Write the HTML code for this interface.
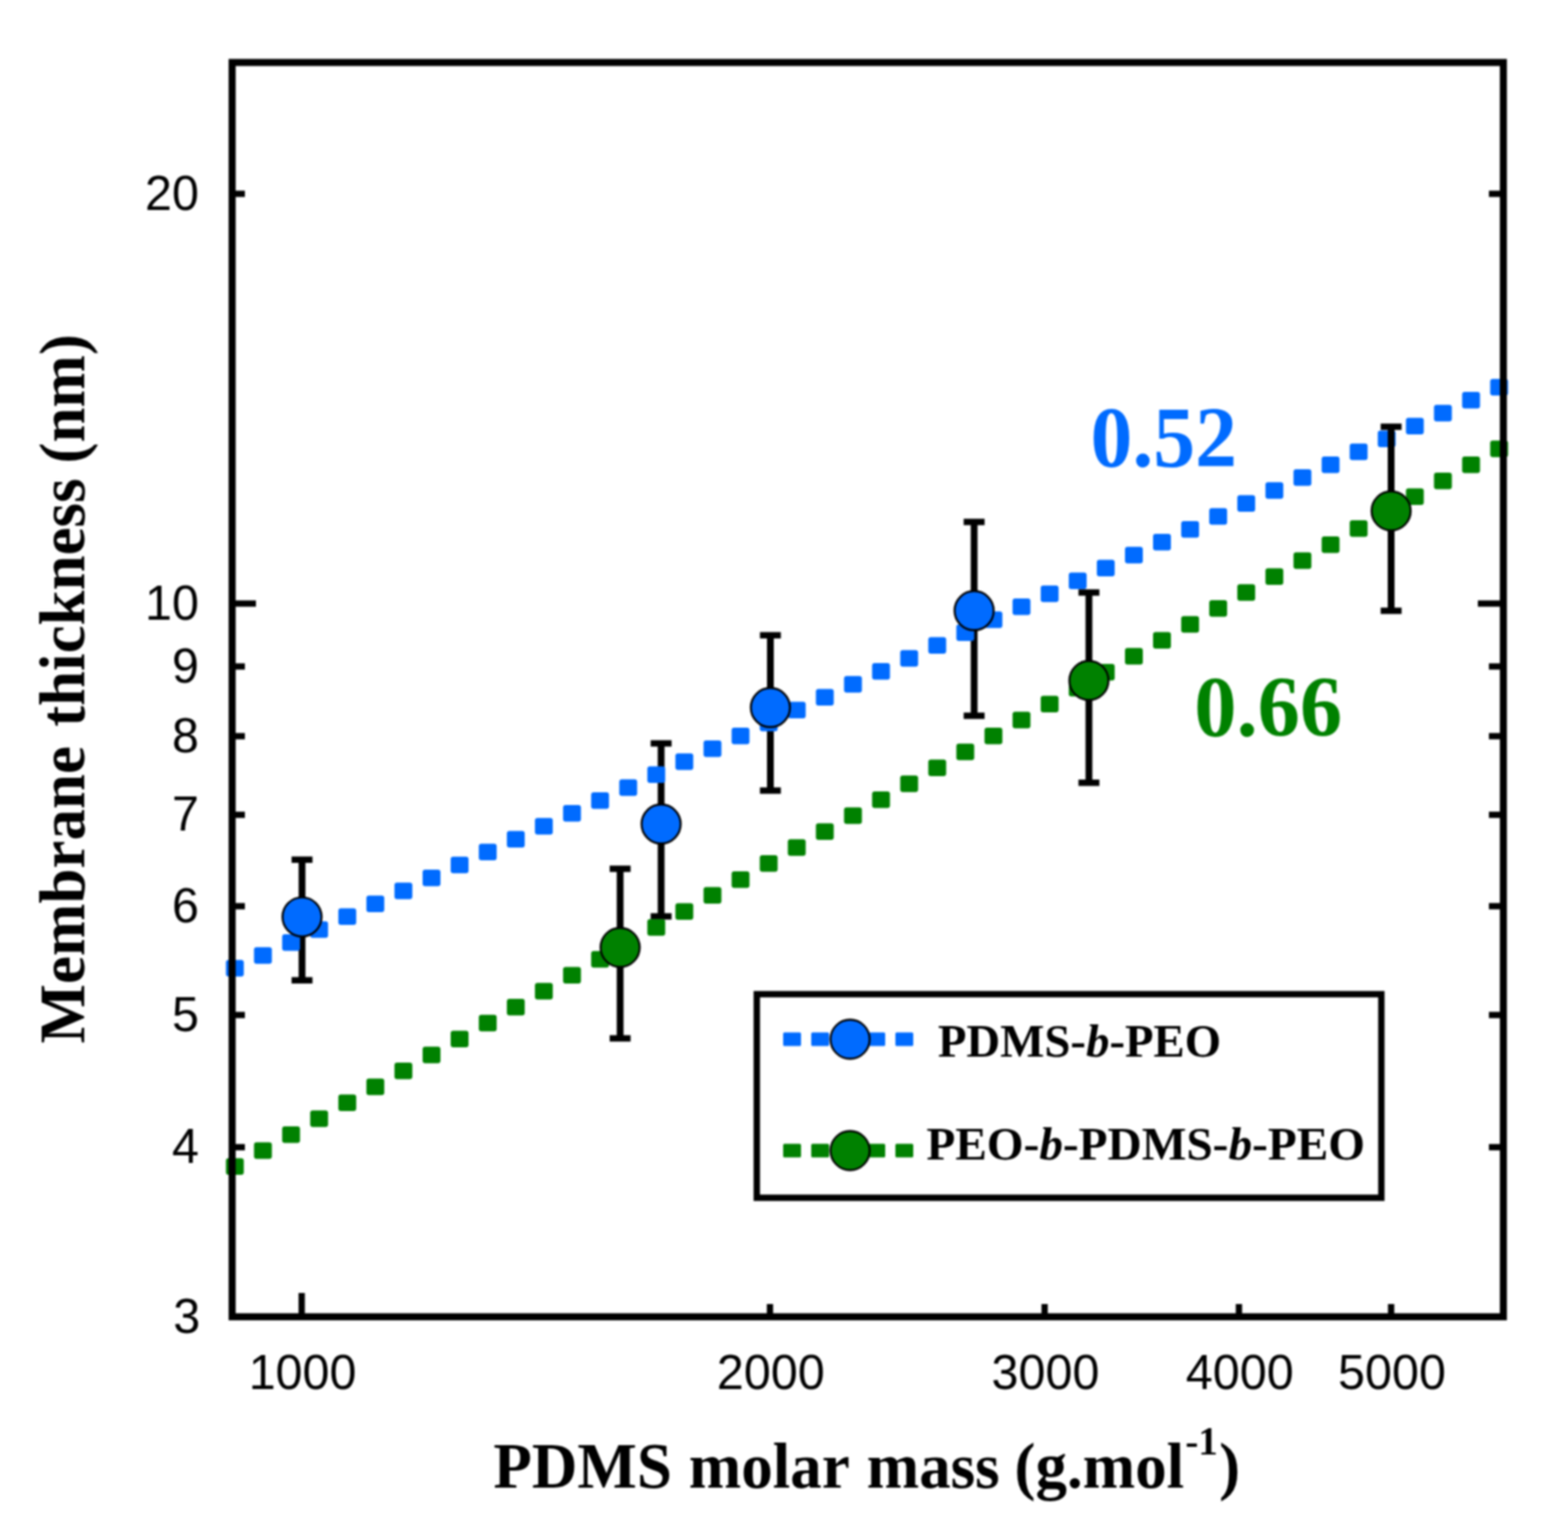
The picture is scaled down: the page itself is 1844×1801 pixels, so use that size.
<!DOCTYPE html>
<html lang="en">
<head>
<meta charset="utf-8">
<title>Membrane thickness vs PDMS molar mass</title>
<style>
html,body{margin:0;padding:0;background:#fff;}
body{width:1844px;height:1801px;overflow:hidden;}
svg{display:block;}
.tick{font-family:"Liberation Sans",sans-serif;font-size:57px;fill:#000;}
.ax{font-family:"Liberation Serif",serif;font-weight:bold;fill:#000;}
.lg{font-family:"Liberation Serif",serif;font-weight:bold;font-size:55px;fill:#000;}
.sl{font-family:"Liberation Serif",serif;font-weight:bold;font-size:101px;}
</style>
</head>
<body>
<svg width="1844" height="1801" viewBox="0 0 1844 1801">
<defs><filter id="soft" x="0" y="0" width="1844" height="1801" filterUnits="userSpaceOnUse" color-interpolation-filters="sRGB"><feGaussianBlur stdDeviation="0.9"/></filter></defs>
<rect x="0" y="0" width="1844" height="1801" fill="#fff"/>
<g filter="url(#soft)">
<rect x="-20" y="-20" width="1884" height="1841" fill="#fff"/>
<g id="series-blue">
<line x1="355.2" y1="1011.3" x2="355.2" y2="1153.2" stroke="#000" stroke-width="8"/><line x1="342.9" y1="1011.3" x2="367.5" y2="1011.3" stroke="#000" stroke-width="7.5"/><line x1="342.9" y1="1153.2" x2="367.5" y2="1153.2" stroke="#000" stroke-width="7.5"/>
<line x1="777.5" y1="874.5" x2="777.5" y2="1078" stroke="#000" stroke-width="8"/><line x1="765.2" y1="874.5" x2="789.8" y2="874.5" stroke="#000" stroke-width="7.5"/><line x1="765.2" y1="1078" x2="789.8" y2="1078" stroke="#000" stroke-width="7.5"/>
<line x1="906" y1="747.3" x2="906" y2="930" stroke="#000" stroke-width="8"/><line x1="893.7" y1="747.3" x2="918.3" y2="747.3" stroke="#000" stroke-width="7.5"/><line x1="893.7" y1="930" x2="918.3" y2="930" stroke="#000" stroke-width="7.5"/>
<line x1="1145.6" y1="614" x2="1145.6" y2="842" stroke="#000" stroke-width="8"/><line x1="1133.3" y1="614" x2="1157.8999999999999" y2="614" stroke="#000" stroke-width="7.5"/><line x1="1133.3" y1="842" x2="1157.8999999999999" y2="842" stroke="#000" stroke-width="7.5"/>
<rect x="265.7" y="1129.3" width="21" height="19.5" rx="3" fill="#006bff"/>
<rect x="298.7" y="1114.2" width="21" height="19.5" rx="3" fill="#006bff"/>
<rect x="331.8" y="1099.0" width="21" height="19.5" rx="3" fill="#006bff"/>
<rect x="364.8" y="1083.8" width="21" height="19.5" rx="3" fill="#006bff"/>
<rect x="397.9" y="1068.6" width="21" height="19.5" rx="3" fill="#006bff"/>
<rect x="430.9" y="1053.4" width="21" height="19.5" rx="3" fill="#006bff"/>
<rect x="463.9" y="1038.2" width="21" height="19.5" rx="3" fill="#006bff"/>
<rect x="497.0" y="1023.0" width="21" height="19.5" rx="3" fill="#006bff"/>
<rect x="530.0" y="1007.8" width="21" height="19.5" rx="3" fill="#006bff"/>
<rect x="563.1" y="992.6" width="21" height="19.5" rx="3" fill="#006bff"/>
<rect x="596.1" y="977.4" width="21" height="19.5" rx="3" fill="#006bff"/>
<rect x="629.1" y="962.3" width="21" height="19.5" rx="3" fill="#006bff"/>
<rect x="662.2" y="947.1" width="21" height="19.5" rx="3" fill="#006bff"/>
<rect x="695.2" y="931.9" width="21" height="19.5" rx="3" fill="#006bff"/>
<rect x="728.3" y="916.7" width="21" height="19.5" rx="3" fill="#006bff"/>
<rect x="761.3" y="901.5" width="21" height="19.5" rx="3" fill="#006bff"/>
<rect x="794.3" y="886.3" width="21" height="19.5" rx="3" fill="#006bff"/>
<rect x="827.4" y="871.1" width="21" height="19.5" rx="3" fill="#006bff"/>
<rect x="860.4" y="855.9" width="21" height="19.5" rx="3" fill="#006bff"/>
<rect x="893.5" y="840.7" width="21" height="19.5" rx="3" fill="#006bff"/>
<rect x="926.5" y="825.5" width="21" height="19.5" rx="3" fill="#006bff"/>
<rect x="959.5" y="810.4" width="21" height="19.5" rx="3" fill="#006bff"/>
<rect x="992.6" y="795.2" width="21" height="19.5" rx="3" fill="#006bff"/>
<rect x="1025.6" y="780.0" width="21" height="19.5" rx="3" fill="#006bff"/>
<rect x="1058.7" y="764.8" width="21" height="19.5" rx="3" fill="#006bff"/>
<rect x="1091.7" y="749.6" width="21" height="19.5" rx="3" fill="#006bff"/>
<rect x="1124.7" y="734.4" width="21" height="19.5" rx="3" fill="#006bff"/>
<rect x="1157.8" y="719.2" width="21" height="19.5" rx="3" fill="#006bff"/>
<rect x="1190.8" y="704.0" width="21" height="19.5" rx="3" fill="#006bff"/>
<rect x="1223.9" y="688.8" width="21" height="19.5" rx="3" fill="#006bff"/>
<rect x="1256.9" y="673.6" width="21" height="19.5" rx="3" fill="#006bff"/>
<rect x="1289.9" y="658.5" width="21" height="19.5" rx="3" fill="#006bff"/>
<rect x="1323.0" y="643.3" width="21" height="19.5" rx="3" fill="#006bff"/>
<rect x="1356.0" y="628.1" width="21" height="19.5" rx="3" fill="#006bff"/>
<rect x="1389.1" y="612.9" width="21" height="19.5" rx="3" fill="#006bff"/>
<rect x="1422.1" y="597.7" width="21" height="19.5" rx="3" fill="#006bff"/>
<rect x="1455.1" y="582.5" width="21" height="19.5" rx="3" fill="#006bff"/>
<rect x="1488.2" y="567.3" width="21" height="19.5" rx="3" fill="#006bff"/>
<rect x="1521.2" y="552.1" width="21" height="19.5" rx="3" fill="#006bff"/>
<rect x="1554.3" y="536.9" width="21" height="19.5" rx="3" fill="#006bff"/>
<rect x="1587.3" y="521.8" width="21" height="19.5" rx="3" fill="#006bff"/>
<rect x="1620.3" y="506.6" width="21" height="19.5" rx="3" fill="#006bff"/>
<rect x="1653.4" y="491.4" width="21" height="19.5" rx="3" fill="#006bff"/>
<rect x="1686.4" y="476.2" width="21" height="19.5" rx="3" fill="#006bff"/>
<rect x="1719.5" y="461.0" width="21" height="19.5" rx="3" fill="#006bff"/>
<rect x="1752.5" y="445.8" width="21" height="19.5" rx="3" fill="#006bff"/>
<circle cx="355.2" cy="1078.6" r="23" fill="#006bff" stroke="#000" stroke-width="2.4"/>
<circle cx="777.5" cy="969.3" r="23" fill="#006bff" stroke="#000" stroke-width="2.4"/>
<circle cx="906" cy="832.3" r="23" fill="#006bff" stroke="#000" stroke-width="2.4"/>
<circle cx="1145.6" cy="718.3" r="23" fill="#006bff" stroke="#000" stroke-width="2.4"/>
</g>
<g id="series-green">
<line x1="729.3" y1="1022" x2="729.3" y2="1221.5" stroke="#000" stroke-width="8"/><line x1="717.0" y1="1022" x2="741.5999999999999" y2="1022" stroke="#000" stroke-width="7.5"/><line x1="717.0" y1="1221.5" x2="741.5999999999999" y2="1221.5" stroke="#000" stroke-width="7.5"/>
<line x1="1280.6" y1="697" x2="1280.6" y2="920.8" stroke="#000" stroke-width="8"/><line x1="1268.3" y1="697" x2="1292.8999999999999" y2="697" stroke="#000" stroke-width="7.5"/><line x1="1268.3" y1="920.8" x2="1292.8999999999999" y2="920.8" stroke="#000" stroke-width="7.5"/>
<line x1="1636" y1="502" x2="1636" y2="718.5" stroke="#000" stroke-width="8"/><line x1="1623.7" y1="502" x2="1648.3" y2="502" stroke="#000" stroke-width="7.5"/><line x1="1623.7" y1="718.5" x2="1648.3" y2="718.5" stroke="#000" stroke-width="7.5"/>
<rect x="265.7" y="1362.5" width="21" height="19.5" rx="3" fill="#008100"/>
<rect x="298.7" y="1343.8" width="21" height="19.5" rx="3" fill="#008100"/>
<rect x="331.8" y="1325.0" width="21" height="19.5" rx="3" fill="#008100"/>
<rect x="364.8" y="1306.3" width="21" height="19.5" rx="3" fill="#008100"/>
<rect x="397.9" y="1287.5" width="21" height="19.5" rx="3" fill="#008100"/>
<rect x="430.9" y="1268.8" width="21" height="19.5" rx="3" fill="#008100"/>
<rect x="463.9" y="1250.0" width="21" height="19.5" rx="3" fill="#008100"/>
<rect x="497.0" y="1231.2" width="21" height="19.5" rx="3" fill="#008100"/>
<rect x="530.0" y="1212.5" width="21" height="19.5" rx="3" fill="#008100"/>
<rect x="563.1" y="1193.7" width="21" height="19.5" rx="3" fill="#008100"/>
<rect x="596.1" y="1175.0" width="21" height="19.5" rx="3" fill="#008100"/>
<rect x="629.1" y="1156.2" width="21" height="19.5" rx="3" fill="#008100"/>
<rect x="662.2" y="1137.4" width="21" height="19.5" rx="3" fill="#008100"/>
<rect x="695.2" y="1118.7" width="21" height="19.5" rx="3" fill="#008100"/>
<rect x="728.3" y="1099.9" width="21" height="19.5" rx="3" fill="#008100"/>
<rect x="761.3" y="1081.2" width="21" height="19.5" rx="3" fill="#008100"/>
<rect x="794.3" y="1062.4" width="21" height="19.5" rx="3" fill="#008100"/>
<rect x="827.4" y="1043.6" width="21" height="19.5" rx="3" fill="#008100"/>
<rect x="860.4" y="1024.9" width="21" height="19.5" rx="3" fill="#008100"/>
<rect x="893.5" y="1006.1" width="21" height="19.5" rx="3" fill="#008100"/>
<rect x="926.5" y="987.3" width="21" height="19.5" rx="3" fill="#008100"/>
<rect x="959.5" y="968.6" width="21" height="19.5" rx="3" fill="#008100"/>
<rect x="992.6" y="949.8" width="21" height="19.5" rx="3" fill="#008100"/>
<rect x="1025.6" y="931.1" width="21" height="19.5" rx="3" fill="#008100"/>
<rect x="1058.7" y="912.3" width="21" height="19.5" rx="3" fill="#008100"/>
<rect x="1091.7" y="893.5" width="21" height="19.5" rx="3" fill="#008100"/>
<rect x="1124.7" y="874.8" width="21" height="19.5" rx="3" fill="#008100"/>
<rect x="1157.8" y="856.0" width="21" height="19.5" rx="3" fill="#008100"/>
<rect x="1190.8" y="837.3" width="21" height="19.5" rx="3" fill="#008100"/>
<rect x="1223.9" y="818.5" width="21" height="19.5" rx="3" fill="#008100"/>
<rect x="1256.9" y="799.8" width="21" height="19.5" rx="3" fill="#008100"/>
<rect x="1289.9" y="781.0" width="21" height="19.5" rx="3" fill="#008100"/>
<rect x="1323.0" y="762.2" width="21" height="19.5" rx="3" fill="#008100"/>
<rect x="1356.0" y="743.5" width="21" height="19.5" rx="3" fill="#008100"/>
<rect x="1389.1" y="724.7" width="21" height="19.5" rx="3" fill="#008100"/>
<rect x="1422.1" y="705.9" width="21" height="19.5" rx="3" fill="#008100"/>
<rect x="1455.1" y="687.2" width="21" height="19.5" rx="3" fill="#008100"/>
<rect x="1488.2" y="668.4" width="21" height="19.5" rx="3" fill="#008100"/>
<rect x="1521.2" y="649.7" width="21" height="19.5" rx="3" fill="#008100"/>
<rect x="1554.3" y="630.9" width="21" height="19.5" rx="3" fill="#008100"/>
<rect x="1587.3" y="612.1" width="21" height="19.5" rx="3" fill="#008100"/>
<rect x="1620.3" y="593.4" width="21" height="19.5" rx="3" fill="#008100"/>
<rect x="1653.4" y="574.6" width="21" height="19.5" rx="3" fill="#008100"/>
<rect x="1686.4" y="555.9" width="21" height="19.5" rx="3" fill="#008100"/>
<rect x="1719.5" y="537.1" width="21" height="19.5" rx="3" fill="#008100"/>
<rect x="1752.5" y="518.3" width="21" height="19.5" rx="3" fill="#008100"/>
<circle cx="729.3" cy="1114.5" r="23" fill="#008100" stroke="#000" stroke-width="2.4"/>
<circle cx="1280.6" cy="800.5" r="23" fill="#008100" stroke="#000" stroke-width="2.4"/>
<circle cx="1636" cy="601" r="23" fill="#008100" stroke="#000" stroke-width="2.4"/>
</g>
<rect x="273" y="73.5" width="1495" height="1475.5" fill="none" stroke="#000" stroke-width="8.3"/>
<line x1="273" y1="228" x2="288" y2="228" stroke="#000" stroke-width="7.4"/>
<line x1="1768" y1="228" x2="1751" y2="228" stroke="#000" stroke-width="7.4"/>
<line x1="273" y1="710" x2="301" y2="710" stroke="#000" stroke-width="7.4"/>
<line x1="1768" y1="710" x2="1738" y2="710" stroke="#000" stroke-width="7.4"/>
<line x1="273" y1="784" x2="288" y2="784" stroke="#000" stroke-width="7.4"/>
<line x1="1768" y1="784" x2="1751" y2="784" stroke="#000" stroke-width="7.4"/>
<line x1="273" y1="866" x2="288" y2="866" stroke="#000" stroke-width="7.4"/>
<line x1="1768" y1="866" x2="1751" y2="866" stroke="#000" stroke-width="7.4"/>
<line x1="273" y1="958.5" x2="288" y2="958.5" stroke="#000" stroke-width="7.4"/>
<line x1="1768" y1="958.5" x2="1751" y2="958.5" stroke="#000" stroke-width="7.4"/>
<line x1="273" y1="1066" x2="288" y2="1066" stroke="#000" stroke-width="7.4"/>
<line x1="1768" y1="1066" x2="1751" y2="1066" stroke="#000" stroke-width="7.4"/>
<line x1="273" y1="1194" x2="288" y2="1194" stroke="#000" stroke-width="7.4"/>
<line x1="1768" y1="1194" x2="1751" y2="1194" stroke="#000" stroke-width="7.4"/>
<line x1="273" y1="1349.5" x2="288" y2="1349.5" stroke="#000" stroke-width="7.4"/>
<line x1="1768" y1="1349.5" x2="1751" y2="1349.5" stroke="#000" stroke-width="7.4"/>
<line x1="354.8" y1="1549" x2="354.8" y2="1521" stroke="#000" stroke-width="7.4"/>
<line x1="905.5" y1="1549" x2="905.5" y2="1534" stroke="#000" stroke-width="7.4"/>
<line x1="1228.5" y1="1549" x2="1228.5" y2="1534" stroke="#000" stroke-width="7.4"/>
<line x1="1457" y1="1549" x2="1457" y2="1534" stroke="#000" stroke-width="7.4"/>
<line x1="1636" y1="1549" x2="1636" y2="1534" stroke="#000" stroke-width="7.4"/>
<text class="tick" x="234" y="246.5" text-anchor="end">20</text>
<text class="tick" x="234" y="728.5" text-anchor="end">10</text>
<text class="tick" x="234" y="802.5" text-anchor="end">9</text>
<text class="tick" x="234" y="884.5" text-anchor="end">8</text>
<text class="tick" x="234" y="977.0" text-anchor="end">7</text>
<text class="tick" x="234" y="1084.5" text-anchor="end">6</text>
<text class="tick" x="234" y="1212.5" text-anchor="end">5</text>
<text class="tick" x="234" y="1368.0" text-anchor="end">4</text>
<text class="tick" x="235.5" y="1567.5" text-anchor="end">3</text>
<text class="tick" x="355.8" y="1634" text-anchor="middle">1000</text>
<text class="tick" x="906.5" y="1634" text-anchor="middle">2000</text>
<text class="tick" x="1229.5" y="1634" text-anchor="middle">3000</text>
<text class="tick" x="1458" y="1634" text-anchor="middle">4000</text>
<text class="tick" x="1637" y="1634" text-anchor="middle">5000</text>
<text class="sl" transform="translate(1282.5,549) scale(0.975,1)" fill="#006bff">0.52</text>
<text class="sl" transform="translate(1404.5,865.5) scale(0.985,1)" fill="#008100">0.66</text>
<rect x="890" y="1169.5" width="734.5" height="239.5" fill="#fff" stroke="#000" stroke-width="7.5"/>
<rect x="921" y="1214.5" width="21" height="16" rx="1.5" fill="#006bff"/>
<rect x="954" y="1214.5" width="21" height="16" rx="1.5" fill="#006bff"/>
<rect x="1020" y="1214.5" width="21" height="16" rx="1.5" fill="#006bff"/>
<rect x="1053" y="1214.5" width="21" height="16" rx="1.5" fill="#006bff"/>
<circle cx="999.7" cy="1222.5" r="23" fill="#006bff" stroke="#000" stroke-width="2.4"/>
<rect x="921" y="1345.5" width="21" height="16" rx="1.5" fill="#008100"/>
<rect x="954" y="1345.5" width="21" height="16" rx="1.5" fill="#008100"/>
<rect x="1020" y="1345.5" width="21" height="16" rx="1.5" fill="#008100"/>
<rect x="1053" y="1345.5" width="21" height="16" rx="1.5" fill="#008100"/>
<circle cx="999.7" cy="1353.5" r="23" fill="#008100" stroke="#000" stroke-width="2.4"/>
<text class="lg" x="1103" y="1242.5">PDMS-<tspan font-style="italic">b</tspan>-PEO</text>
<text class="lg" x="1089.5" y="1364" style="font-size:55.6px">PEO-<tspan font-style="italic">b</tspan>-PDMS-<tspan font-style="italic">b</tspan>-PEO</text>
<text class="ax" style="font-size:76px" transform="translate(580.0,1750) scale(0.975,1)"><tspan x="0.2">PDMS </tspan><tspan x="235.9">molar </tspan><tspan x="450.5">mass </tspan><tspan x="628.7">(g.mol</tspan><tspan x="834.8" dy="-39" font-size="47">-1</tspan><tspan x="875.7" dy="39">)</tspan></text>
<text class="ax" style="font-size:77px" transform="translate(99,1227) rotate(-90) scale(0.9625,1)"><tspan x="-0.5">Membrane </tspan><tspan x="386.4">thickness </tspan><tspan x="708.3">(nm)</tspan></text>
</g>
</svg>
</body>
</html>
